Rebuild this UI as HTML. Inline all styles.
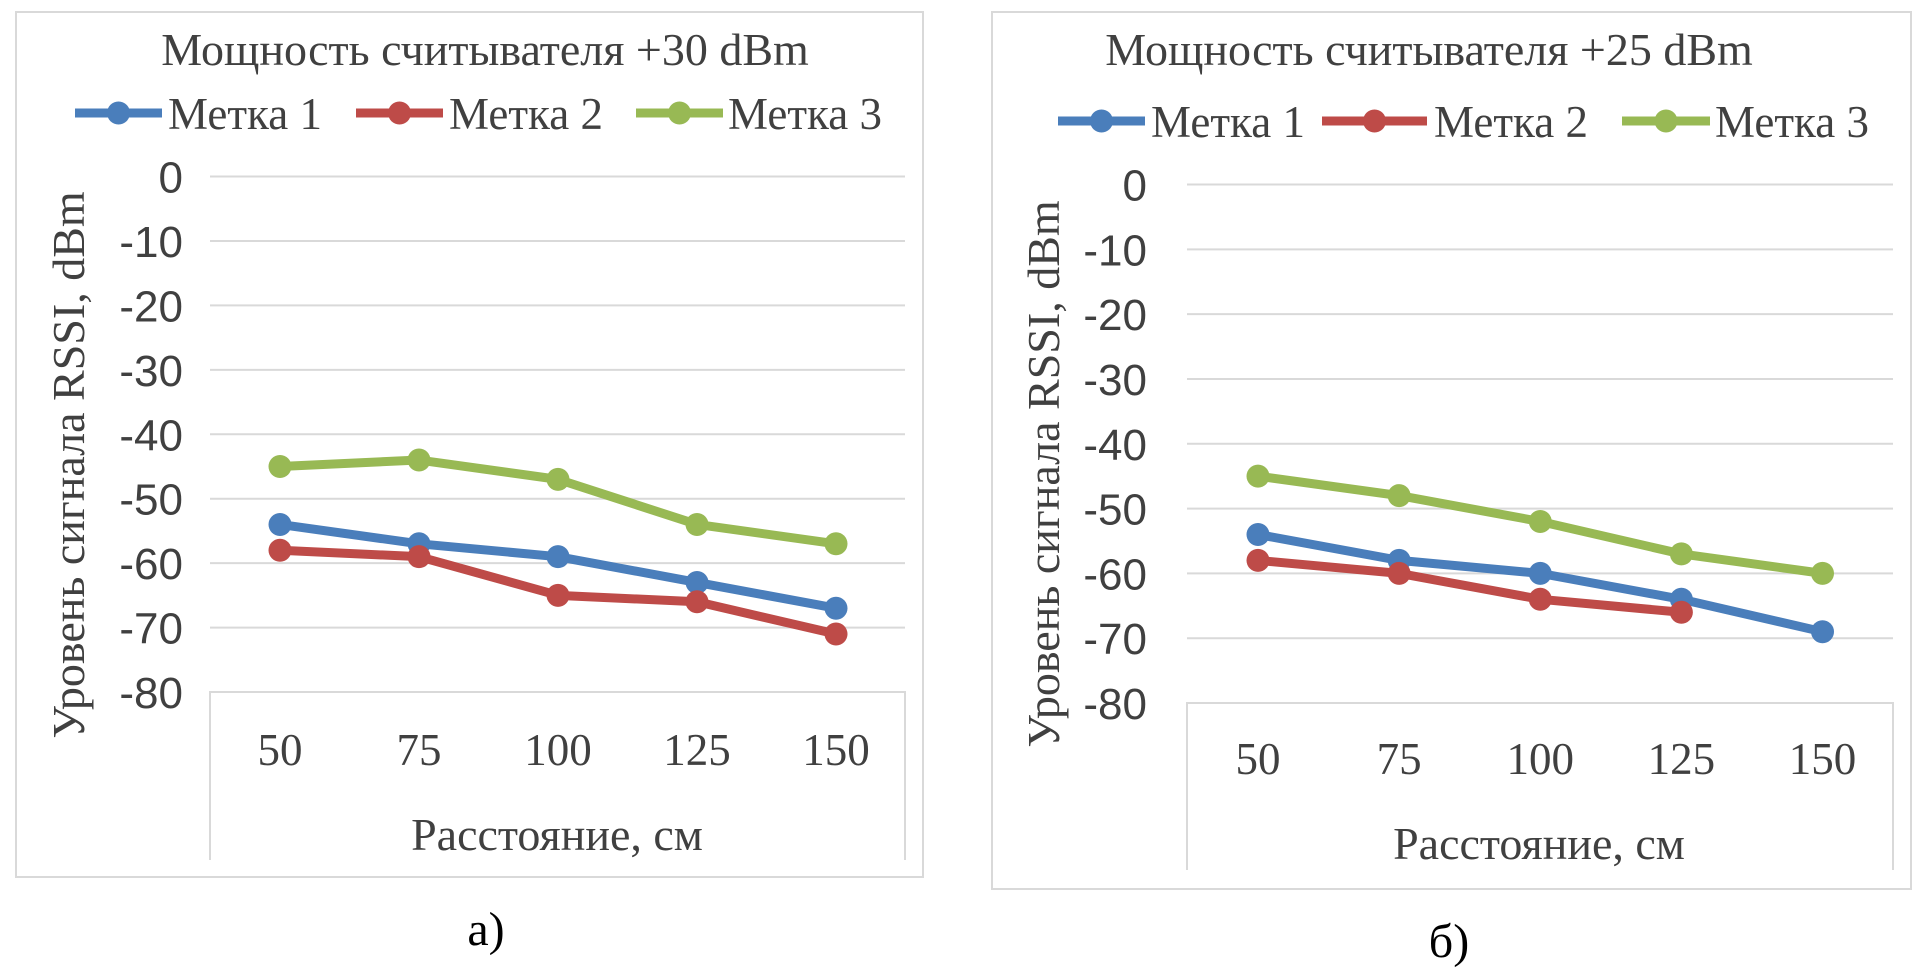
<!DOCTYPE html>
<html><head><meta charset="utf-8"><style>
html,body{margin:0;padding:0;background:#fff;}
svg{display:block;}
.ser{font-family:"Liberation Serif",serif;fill:#404040;}
.san{font-family:"Liberation Sans",sans-serif;fill:#404040;}
</style></head><body>
<svg id="s" width="1912" height="969" xmlns="http://www.w3.org/2000/svg"></svg>
<script>
const categories = [50, 75, 100, 125, 150];
const yTicks = [0, -10, -20, -30, -40, -50, -60, -70, -80];
const seriesNames = ["Метка 1", "Метка 2", "Метка 3"];
const colors = ["#4a7ebb", "#be4b48", "#98b954"];
const a_m1 = [-54, -57, -59, -63, -67];
const a_m2 = [-58, -59, -65, -66, -71];
const a_m3 = [-45, -44, -47, -54, -57];
const b_m1 = [-54, -58, -60, -64, -69];
const b_m2 = [-58, -60, -64, -66];
const b_m3 = [-45, -48, -52, -57, -60];

const NS = "http://www.w3.org/2000/svg";
const svg = document.getElementById('s');
function mk(tag, attrs, parent, text){
  const e = document.createElementNS(NS, tag);
  for (const k in attrs) e.setAttribute(k, attrs[k]);
  if (text !== undefined) e.textContent = text;
  (parent || svg).appendChild(e);
  return e;
}

const charts = [
  {id:'a', title:"Мощность считывателя +30 dBm", data:[a_m1,a_m2,a_m3], frame:[15,11,909,867],
   px0:210, px1:905, y0:176.5, y80:692, cx0:280, cx1:836, titleX:485, titleY:65, legY:113,
   leg:[[75,162,168],[356,443,449],[636,723,728]], tickX:183, xlabY:765, xtitleX:557, xtitleY:850,
   ytitleX:69, ytitleY:465, boxBottom:860, label:"а)", labelX:486, labelY:945},
  {id:'b', title:"Мощность считывателя +25 dBm", data:[b_m1,b_m2,b_m3], frame:[991,11,921,879],
   px0:1187, px1:1893, y0:184.5, y80:703, cx0:1258, cx1:1822.5, titleX:1429, titleY:65, legY:121,
   leg:[[1058,1145,1151],[1322,1427,1434],[1622,1710,1715]], tickX:1147, xlabY:774, xtitleX:1539, xtitleY:859,
   ytitleX:84, ytitleY:474, boxBottom:870, label:"б)", labelX:1449, labelY:957}
];

charts.forEach(c => {
  const g = mk('g', {});
  
  
  const yS = v => c.y0 + (v/-80)*(c.y80 - c.y0);
  const xS = i => c.cx0 + i*(c.cx1 - c.cx0)/(categories.length-1);
  const fr = mk('rect', {x:c.frame[0]+1, y:c.frame[1]+1, width:c.frame[2]-2, height:c.frame[3]-2, fill:'#fff', stroke:'#d9d9d9', 'stroke-width':2}, g);
  
  
  const t = mk('text', {x:c.titleX, y:c.titleY, 'text-anchor':'middle', 'font-size':46, class:'ser'}, g, c.title);
  
  
  yTicks.forEach(v => {
    if (v !== -80) {
      const l = mk('line', {x1:c.px0, x2:c.px1, y1:yS(v), y2:yS(v), stroke:'#d9d9d9', 'stroke-width':2}, g);
      
      
    }
    const tt = mk('text', {x:c.tickX, y:yS(v)+16, 'text-anchor':'end', 'font-size':44, class:'san'}, g, String(v));
    
    
  });
  const bx = mk('path', {d:`M${c.px0},${c.boxBottom} V${c.y80} H${c.px1} V${c.boxBottom}`, fill:'none', stroke:'#d9d9d9', 'stroke-width':2}, g);
  
  
  categories.forEach((cat,i) => {
    const xt = mk('text', {x:xS(i), y:c.xlabY, 'text-anchor':'middle', 'font-size':45, class:'ser'}, g, String(cat));
    
    
  });
  const xtl = mk('text', {x:c.xtitleX, y:c.xtitleY, 'text-anchor':'middle', 'font-size':46, class:'ser'}, g, "Расстояние, см");
  
  
  const yx = c.id==='a' ? c.ytitleX : 960 + c.ytitleX;
  const ytl = mk('text', {x:yx, y:c.ytitleY, 'text-anchor':'middle', 'font-size':46, class:'ser', transform:`rotate(-90 ${yx} ${c.ytitleY}) translate(0 15)`}, g, "Уровень сигнала RSSI, dBm");
  
  
  c.data.forEach((arr, si) => {
    const sg = mk('g', {}, g);
    
    
    const pts = arr.map((v,i) => `${xS(i)},${yS(v)}`).join(' ');
    mk('polyline', {points:pts, fill:'none', stroke:colors[si], 'stroke-width':9, 'stroke-linejoin':'round'}, sg);
    arr.forEach((v,i) => {
      const p = mk('circle', {cx:xS(i), cy:yS(v), r:11.5, fill:colors[si]}, sg);
      
      
    });
    const L = c.leg[si];
    const lg = mk('g', {}, g);
    
    
    mk('line', {x1:L[0], x2:L[1], y1:c.legY, y2:c.legY, stroke:colors[si], 'stroke-width':9}, lg);
    mk('circle', {cx:(L[0]+L[1])/2, cy:c.legY, r:11.5, fill:colors[si]}, lg);
    mk('text', {x:L[2], y:c.legY+16, 'font-size':45, class:'ser'}, lg, seriesNames[si]);
  });
  const lb = mk('text', {x:c.labelX, y:c.labelY, 'text-anchor':'middle', 'font-size':48, class:'ser', style:'fill:#000'}, svg, c.label);
  
  
});
</script>
</body></html>
